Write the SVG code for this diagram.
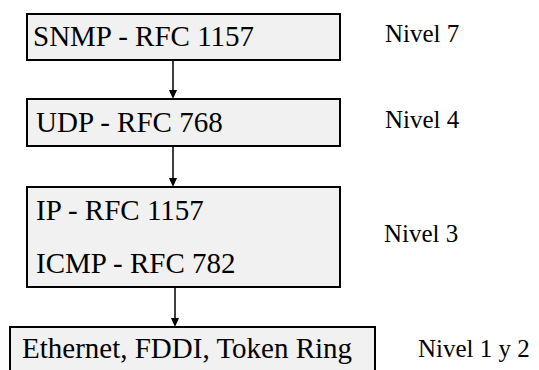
<svg xmlns="http://www.w3.org/2000/svg" width="539" height="370" viewBox="0 0 539 370">
<style>
.box{fill:#f1f1f1;stroke:#000;stroke-width:2}
.c{stroke:#000;stroke-width:1.5;fill:none}
</style>
<rect width="539" height="370" fill="#fff"/>
<g id="connectors">
<line class="c" x1="173" y1="60" x2="173" y2="90"/>
<path d="M169,90 L177,90 L173,99 Z" fill="#000"/>
<line class="c" x1="173" y1="146" x2="173" y2="178"/>
<path d="M169,178 L177,178 L173,187 Z" fill="#000"/>
<line class="c" x1="175" y1="287" x2="175" y2="318"/>
<path d="M171,318 L179,318 L175,327 Z" fill="#000"/>
</g>
<g id="snmp">
<rect class="box" x="27" y="14" width="313" height="46"/>
<text x="33" y="46" font-family="Liberation Serif, serif" font-size="29">SNMP - RFC 1157</text>
</g>
<g id="udp">
<rect class="box" x="27" y="99" width="313" height="47"/>
<text x="36" y="132" font-family="Liberation Serif, serif" font-size="29">UDP - RFC 768</text>
</g>
<g id="ip">
<rect class="box" x="27" y="187" width="313" height="100"/>
<text x="36" y="220" font-family="Liberation Serif, serif" font-size="29">IP - RFC 1157</text>
<text x="36" y="273" font-family="Liberation Serif, serif" font-size="29">ICMP - RFC 782</text>
</g>
<g id="ethernet">
<rect class="box" x="10" y="327" width="365" height="50"/>
<text x="22" y="358" font-family="Liberation Serif, serif" font-size="29">Ethernet, FDDI, Token Ring</text>
</g>
<g id="levels">
<text x="385" y="42" font-family="Liberation Serif, serif" font-size="25">Nivel 7</text>
<text x="385" y="128" font-family="Liberation Serif, serif" font-size="25">Nivel 4</text>
<text x="384" y="242" font-family="Liberation Serif, serif" font-size="25">Nivel 3</text>
<text x="418" y="357" font-family="Liberation Serif, serif" font-size="25">Nivel 1 y 2</text>
</g>
</svg>
